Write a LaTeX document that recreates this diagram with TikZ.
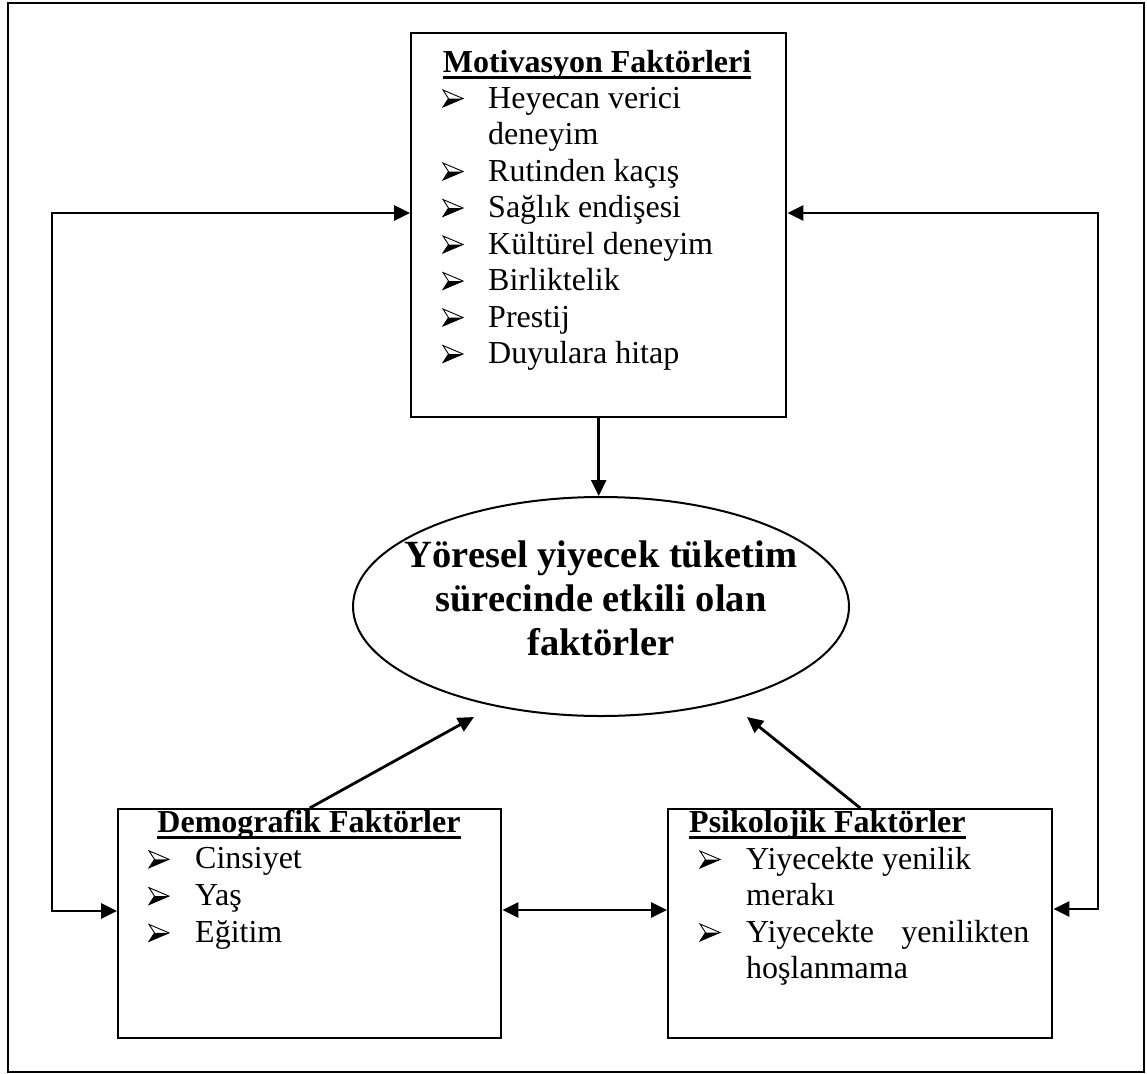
\documentclass[tikz,border=0pt]{standalone}
\usepackage{fontspec}
\setmainfont{Liberation Serif}
\usetikzlibrary{arrows.meta,shapes.geometric}

\newcommand\bodysize{\fontsize{32pt}{36.6pt}\selectfont}

\tikzset{
  frame/.style={draw, line width=1.8pt, inner sep=0pt},
  box/.style={draw, line width=2.4pt, inner sep=0pt, anchor=north west},
  goalshape/.style={draw, ellipse, line width=2pt, inner sep=0pt,
    minimum width=496pt, minimum height=219pt},
  goaltext/.style={inner sep=0pt, align=center,
    font=\fontsize{38.5pt}{44pt}\selectfont\bfseries},
  head/.style={inner sep=0pt, font=\bodysize\bfseries},
  item/.style={inner sep=0pt, anchor=base west, font=\bodysize},
  uline/.style={line width=3pt},
  link/.style={line width=2.8pt, -{Triangle[length=16pt,width=15pt]}},
  twoway/.style={line width=2.8pt, {Triangle[length=16pt,width=15pt]}-{Triangle[length=16pt,width=15pt]}},
  % 3D arrowhead list marker, origin on the text baseline
  arrowbullet/.pic={
    \fill[white] (0,-18) -- (20,-9.5) -- (5.5,-9.5) -- cycle;
    \fill[black] (0,-1) -- (20,-9.5) -- (5.5,-9.5) -- cycle;
    \draw[line width=0.9pt, line join=miter]
      (0,-18) -- (20,-9.5) -- (0,-1) -- (5.5,-9.5) -- cycle;
  },
}

\begin{document}
\begin{tikzpicture}[x=1pt,y=-1pt]
\useasboundingbox (0,0) rectangle (1147,1073);

% outer frame
\node[frame, minimum width=1136pt, minimum height=1069pt, anchor=north west] (outer) at (7,2) {};

% three factor boxes
\node[box, minimum width=375pt, minimum height=384pt] (motiv) at (410,32) {};
\node[box, minimum width=383pt, minimum height=229pt] (demo) at (117,808) {};
\node[box, minimum width=384pt, minimum height=229pt] (psik) at (667,808) {};

% central ellipse and its caption
\node[goalshape] (goal) at (601,606.5) {};
\node[goaltext] (goalcap) at (601,598) {Yöresel yiyecek tüketim\\sürecinde etkili olan\\faktörler};

% motivation factors
\node[head, anchor=base] (mt) at (597,72) {Motivasyon Faktörleri};
\draw[uline] ([yshift=-5pt]mt.base west) -- ([yshift=-5pt]mt.base east);
\foreach \t [count=\i] in {Heyecan verici, deneyim, Rutinden kaçış, Sağlık endişesi,
    Kültürel deneyim, Birliktelik, Prestij, Duyulara hitap}
  \node[item] (m\i) at (488,71.5+36.5*\i) {\t};
\foreach \i in {1,3,4,5,6,7,8}
  \pic at (443,71.5+36.5*\i) {arrowbullet};

% demographic factors
\node[head, anchor=base] (dt) at (309,832) {Demografik Faktörler};
\draw[uline] ([yshift=-5pt]dt.base west) -- ([yshift=-5pt]dt.base east);
\foreach \t [count=\i] in {Cinsiyet, Yaş, Eğitim}
  \node[item] (d\i) at (195,832+36.8*\i) {\t};
\foreach \i in {1,2,3}
  \pic at (149,832+36.8*\i) {arrowbullet};

% psychological factors
\node[head, anchor=base west] (pt) at (689,832) {Psikolojik Faktörler};
\draw[uline] ([yshift=-5pt]pt.base west) -- ([yshift=-5pt]pt.base east);
\node[item] (p1) at (746,869) {Yiyecekte yenilik};
\node[item] (p2) at (746,905.5) {merakı};
\node[item] (p3) at (746,942) {\makebox[283pt][s]{Yiyecekte yenilikten}};
\node[item] (p4) at (746,978.5) {hoşlanmama};
\pic at (700,869) {arrowbullet};
\pic at (700,942) {arrowbullet};

% connectors
\coordinate (lA) at (52,213);
\coordinate (lB) at (52,911);
\coordinate (rA) at (1098,213);
\coordinate (rB) at (1098,909);
\coordinate (mid) at (0,910);
\coordinate (dTip) at (474,717);
\coordinate (pTip) at (747,717);

\draw[link] (motiv.south) -- (motiv.south |- goal.north);
\draw[link] (demo.north) -- (dTip);
\draw[link] (psik.north) -- (pTip);
\draw[twoway] (motiv.west |- lA) -- (lA) -- (lB) -- (demo.west |- lB);
\draw[twoway] (motiv.east |- rA) -- (rA) -- (rB) -- (psik.east |- rB);
\draw[twoway] (demo.east |- mid) -- (psik.west |- mid);
\end{tikzpicture}
\end{document}
